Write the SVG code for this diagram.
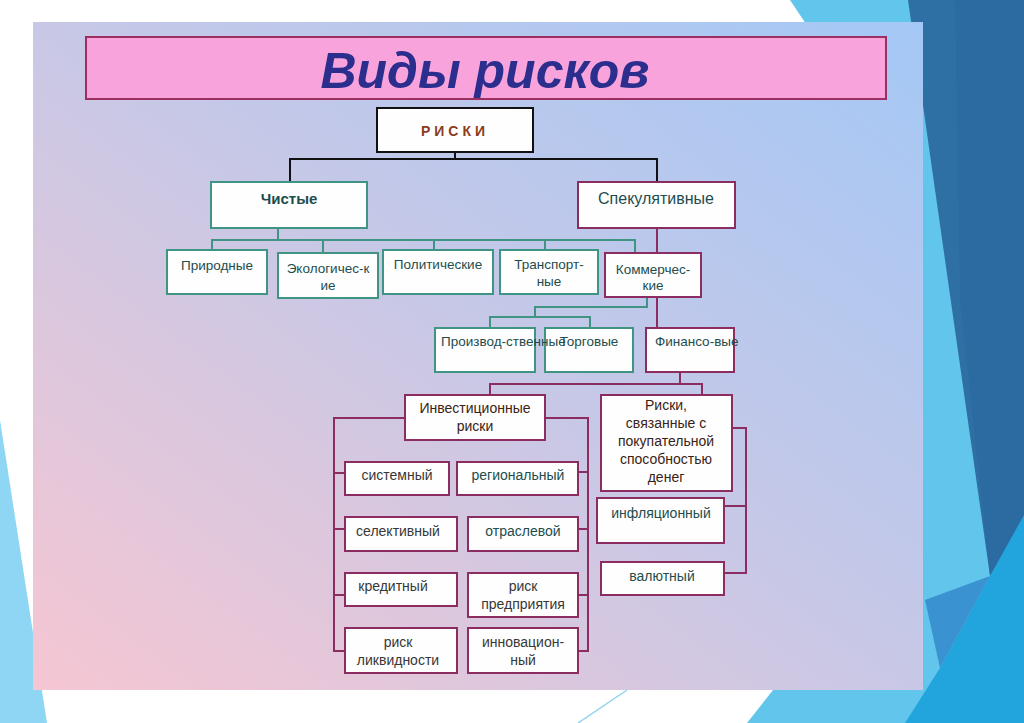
<svg xmlns="http://www.w3.org/2000/svg" width="1024" height="723" viewBox="0 0 1024 723">
<defs>
<linearGradient id="panel" x1="0" y1="1" x2="1" y2="0">
<stop offset="0" stop-color="#f6c6d2"/>
<stop offset="0.5" stop-color="#c8c8e6"/>
<stop offset="1" stop-color="#a4c8f6"/>
</linearGradient>
<style>
.t{font-family:"Liberation Sans",Arial,sans-serif;text-anchor:middle}
.bt{fill:#fefefe;stroke:#3f9484;stroke-width:2}
.bm{fill:#fefefe;stroke:#8c2d62;stroke-width:2}
.cT{fill:none;stroke:#3f9484;stroke-width:2}
.cM{fill:none;stroke:#8c2d62;stroke-width:2}
.cK{fill:none;stroke:#111;stroke-width:2}
.teal{fill:#1d4d4d;font-size:13.5px}
.gray{fill:#383838;font-size:14px}
.brown{fill:#3a2214;font-size:14px}
.tealb{fill:#1d4d4d;font-size:14px}
</style>
</defs>
<rect x="0" y="0" width="1024" height="723" fill="#ffffff"/>
<g id="background">
<polygon points="790,0 1024,0 1024,723 747,723 773,690 830,60" fill="#62c6ec"/>
<polygon points="908,0 1024,0 1024,520 990,576" fill="#2f70a4"/>
<polygon points="955,0 1024,0 1024,520 990,576 960,300" fill="#2b68a0" opacity="0.6"/>
<polygon points="1024,515 1024,723 905,723 940,668 990,576" fill="#22a5dc"/>
<polygon points="990,576 940,668 925,600" fill="#3a92d0"/>
<polygon points="0,420 47,723 0,723" fill="#8ed6f4"/>
<line x1="627" y1="690" x2="578" y2="723" stroke="#8fd3ee" stroke-width="1.5"/>
</g>
<rect id="panel-bg" x="33" y="22" width="890" height="668" fill="url(#panel)"/>
<g id="title">
<rect x="86" y="37" width="800" height="62" fill="#f9a3dc" stroke="#9b3060" stroke-width="2"/>
<text class="t" x="485" y="88" font-size="50" font-weight="bold" font-style="italic" fill="#2b2e8c">Виды рисков</text>
</g>
<g id="connectors">
<path class="cK" d="M455,152 V159 M290,182 V159 H657 V182"/>
<path class="cT" d="M278,228 V240 M212,250 V240 H635 V253 M323,240 V253 M434,240 V250 M545,240 V250"/>
<path class="cM" d="M657,228 V253 M657,297 V328"/>
<path class="cT" d="M647,297 V307 H535 V317 M490,328 V317 H590 V328"/>
<path class="cM" d="M680,372 V384 M490,395 V384 H702 V395"/>
<path class="cM" d="M405,418 H334 V651 H346 M334,473 H346 M334,529 H346 M334,595 H346"/>
<path class="cM" d="M545,418 H588 V651 H578 M578,472 H588 M578,529 H588 M578,595 H588"/>
<path class="cM" d="M732,428 H746 V573 H724 M724,506 H746"/>
</g>
<g id="n-riski">
<rect x="377" y="108" width="156" height="44" fill="#fefefe" stroke="#111" stroke-width="2"/>
<text class="t" x="455" y="136" font-size="14" font-weight="bold" fill="#8b3c1c" letter-spacing="4">РИСКИ</text>
</g>
<g id="n-chistye">
<rect class="bt" x="211" y="182" width="156" height="46"/>
<text class="t" x="289" y="204" font-size="15" font-weight="bold" fill="#1d4d4d">Чистые</text>
</g>
<g id="n-spek">
<rect class="bm" x="578" y="182" width="157" height="46"/>
<text class="t" x="656" y="204" font-size="16" fill="#1d4d4d">Спекулятивные</text>
</g>
<g id="n-prirodnye">
<rect class="bt" x="167" y="250" width="100" height="44"/>
<text class="t teal" x="217" y="270">Природные</text>
</g>
<g id="n-ekolog">
<rect class="bt" x="278" y="253" width="100" height="45"/>
<text class="t teal" x="328" y="273">Экологичес-к</text>
<text class="t teal" x="328" y="290">ие</text>
</g>
<g id="n-polit">
<rect class="bt" x="383" y="250" width="110" height="44"/>
<text class="t teal" x="438" y="269">Политические</text>
</g>
<g id="n-transport">
<rect class="bt" x="500" y="250" width="98" height="44"/>
<text class="t teal" x="549" y="269">Транспорт-</text>
<text class="t teal" x="549" y="286">ные</text>
</g>
<g id="n-kommer">
<rect class="bm" x="605" y="253" width="96" height="44"/>
<text class="t teal" x="653" y="274">Коммерчес-</text>
<text class="t teal" x="653" y="290">кие</text>
</g>
<g id="n-torgovye">
<rect class="bt" x="545" y="328" width="88" height="44"/>
<text class="t teal" x="589" y="346">Торговые</text>
</g>
<g id="n-proizvod">
<rect class="bt" x="435" y="328" width="100" height="44"/>
<text class="t teal" x="441" y="346" style="text-anchor:start">Производ-ственные</text>
</g>
<g id="n-finans">
<rect class="bm" x="646" y="328" width="88" height="44"/>
<text class="t teal" x="655" y="346" style="text-anchor:start">Финансо-вые</text>
</g>
<g id="n-invest">
<rect class="bm" x="405" y="395" width="140" height="45"/>
<text class="t brown" x="475" y="413">Инвестиционные</text>
<text class="t brown" x="475" y="431">риски</text>
</g>
<g id="n-pokup">
<rect class="bm" x="601" y="395" width="131" height="96"/>
<text class="t brown" x="666" y="410">Риски,</text>
<text class="t brown" x="666" y="428">связанные с</text>
<text class="t brown" x="666" y="446">покупательной</text>
<text class="t brown" x="666" y="464">способностью</text>
<text class="t brown" x="666" y="482">денег</text>
</g>
<g id="n-sistemny">
<rect class="bm" x="345" y="462" width="104" height="33"/>
<text class="t gray" x="397" y="480">системный</text>
</g>
<g id="n-regional">
<rect class="bm" x="457" y="462" width="121" height="33"/>
<text class="t tealb" x="518" y="480">региональный</text>
</g>
<g id="n-selekt">
<rect class="bm" x="345" y="517" width="112" height="34"/>
<text class="t gray" x="398" y="536">селективный</text>
</g>
<g id="n-otrasl">
<rect class="bm" x="468" y="517" width="110" height="34"/>
<text class="t tealb" x="523" y="536">отраслевой</text>
</g>
<g id="n-kredit">
<rect class="bm" x="345" y="573" width="112" height="33"/>
<text class="t gray" x="393" y="591">кредитный</text>
</g>
<g id="n-predpr">
<rect class="bm" x="468" y="573" width="110" height="44"/>
<text class="t gray" x="523" y="591">риск</text>
<text class="t gray" x="523" y="609">предприятия</text>
</g>
<g id="n-likvid">
<rect class="bm" x="345" y="628" width="112" height="45"/>
<text class="t gray" x="398" y="647">риск</text>
<text class="t gray" x="398" y="665">ликвидности</text>
</g>
<g id="n-innov">
<rect class="bm" x="468" y="628" width="110" height="45"/>
<text class="t gray" x="523" y="647">инновацион-</text>
<text class="t gray" x="523" y="665">ный</text>
</g>
<g id="n-infl">
<rect class="bm" x="597" y="498" width="127" height="45"/>
<text class="t tealb" x="661" y="518">инфляционный</text>
</g>
<g id="n-valut">
<rect class="bm" x="601" y="562" width="123" height="33"/>
<text class="t tealb" x="662" y="581">валютный</text>
</g>
</svg>
